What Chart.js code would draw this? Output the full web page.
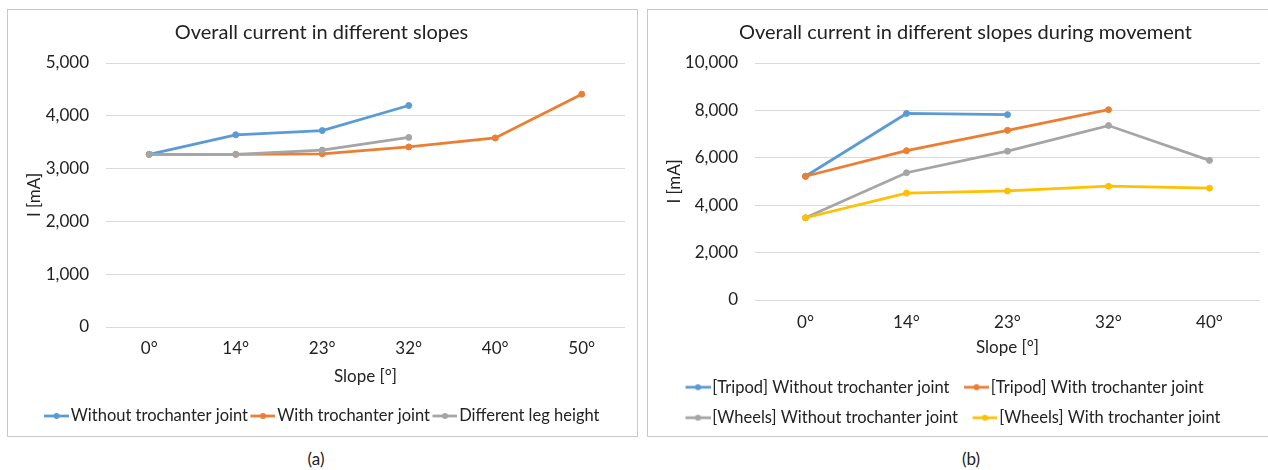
<!DOCTYPE html>
<html>
<head>
<meta charset="utf-8">
<script src="https://cdn.jsdelivr.net/npm/chart.js@4.4.1/dist/chart.umd.min.js"></script>
<style>
  body { margin: 0; width: 1268px; height: 470px; background: #fff; overflow: hidden; position: relative; }
  .box { position: absolute; border: 1px solid #c8c8c8; background: #fff; }
  .box canvas { display: block; }
  .caption { position: absolute; top: 448px; font: 17px Lato, "Open Sans", sans-serif; color: #222; width: 60px; text-align: center; }
</style>
</head>
<body>
<div class="box" style="left:7px; top:9px; width:629px; height:426px;">
  <canvas id="chartA" width="629" height="426"></canvas>
</div>
<div class="box" style="left:647px; top:9px; width:621px; height:426px;">
  <canvas id="chartB" width="621" height="426"></canvas>
</div>
<div class="caption" style="left:286px;">(a)</div>
<div class="caption" style="left:941px;">(b)</div>

<script>
// chart (a): standing current
const slopesA = ['0°', '14°', '23°', '32°', '40°', '50°'];
const withoutJointA = [3270, 3640, 3720, 4195];
const withJointA = [3270, 3270, 3280, 3410, 3580, 4410];
const legHeightA = [3270, 3270, 3350, 3590];

// chart (b): current during movement
const slopesB = ['0°', '14°', '23°', '32°', '40°'];
const tripodWithout = [5220, 7870, 7820];
const tripodWith = [5220, 6300, 7160, 8030];
const wheelsWithout = [3470, 5370, 6280, 7360, 5890];
const wheelsWith = [3470, 4510, 4600, 4800, 4720];

const BLUE = '#5b9bd5', ORANGE = '#ed7d31', GRAY = '#a5a5a5', YELLOW = '#ffc000';
const FONT = 'Lato, "Open Sans", sans-serif';
const TEXT = '#222';

Chart.defaults.font.family = FONT;
Chart.defaults.color = TEXT;
Chart.defaults.animation = false;

// line + dot marker like the office legend (a bit wider than the legend box)
function legendIcon(color) {
    const c = document.createElement('canvas');
    c.width = 32; c.height = 8;
    const g = c.getContext('2d');
    g.strokeStyle = color;
    g.lineWidth = 2.75;
    g.beginPath(); g.moveTo(7, 4); g.lineTo(32, 4); g.stroke();
    g.fillStyle = color;
    g.beginPath(); g.arc(19.5, 4, 3, 0, Math.PI * 2); g.fill();
    return c;
}

function series(label, data, color, order) {
    return {
        label: label, data: data, order: order,
        borderColor: color, backgroundColor: color,
        borderWidth: 2.75, pointRadius: 3, pointBorderWidth: 1,
        pointBackgroundColor: color, pointBorderColor: color,
        tension: 0, spanGaps: false
    };
}

function makeOptions(cfg) {
    return {
        responsive: false,
        layout: { padding: { left: cfg.padLeft, right: cfg.padRight, top: 0, bottom: cfg.padBottom } },
        plugins: {
            tooltip: { enabled: false },
            title: {
                display: true, text: cfg.title, color: TEXT,
                font: { size: 20, weight: 'normal' },
                padding: { top: 11, bottom: 18 }
            },
            legend: {
                position: 'bottom', align: cfg.legendAlign,
                labels: {
                    usePointStyle: true, pointStyleWidth: 19,
                    padding: cfg.legendPad, color: TEXT,
                    font: { size: 16.5 },
                    sort: (a, b) => a.datasetIndex - b.datasetIndex,
                    generateLabels: chart => Chart.defaults.plugins.legend.labels.generateLabels(chart).map(item => {
                        item.pointStyle = legendIcon(chart.data.datasets[item.datasetIndex].borderColor);
                        return item;
                    })
                }
            }
        },
        scales: {
            x: {
                offset: true,
                grid: { display: false, drawTicks: false },
                border: { display: false },
                ticks: { padding: cfg.xTickPad, font: { size: 17 }, color: TEXT },
                title: { display: true, text: 'Slope [°]', color: TEXT, font: { size: 17 }, padding: { top: 0, bottom: cfg.xTitlePad } },
                afterFit: s => { s.height = cfg.xHeight; }
            },
            y: {
                min: 0, max: cfg.yMax,
                ticks: { stepSize: cfg.yStep, padding: 17, font: { size: 17 }, color: TEXT,
                         callback: v => v.toLocaleString('en-US') },
                grid: { color: '#d9d9d9', lineWidth: 1, drawTicks: false },
                border: { display: false },
                title: { display: true, text: 'I [mA]', color: TEXT, font: { size: 17 }, padding: { top: cfg.yTitlePad, bottom: 0 } },
                afterFit: s => { s.width = cfg.yWidth; }
            }
        }
    };
}

new Chart(document.getElementById('chartA'), {
    type: 'line',
    data: {
        labels: slopesA,
        datasets: [
            series('Without trochanter joint', withoutJointA, BLUE, 2),
            series('With trochanter joint', withJointA, ORANGE, 1),
            series('Different leg height', legHeightA, GRAY, 0)
        ]
    },
    options: makeOptions({
        title: 'Overall current in different slopes',
        padLeft: 10, padRight: 12, padBottom: 1.75,
        yWidth: 88, yTitlePad: 6.8, yMax: 5000, yStep: 1000,
        xHeight: 78.75, xTickPad: 11, xTitlePad: 18.55,
        legendPad: 2, legendAlign: 'center'
    })
});

new Chart(document.getElementById('chartB'), {
    type: 'line',
    data: {
        labels: slopesB,
        datasets: [
            series('[Tripod] Without trochanter joint', tripodWithout, BLUE, 3),
            series('[Tripod] With trochanter joint', tripodWith, ORANGE, 2),
            series('[Wheels] Without trochanter joint', wheelsWithout, GRAY, 1),
            series('[Wheels] With trochanter joint', wheelsWith, YELLOW, 0)
        ]
    },
    options: makeOptions({
        title: 'Overall current in different slopes during movement',
        padLeft: 23, padRight: 9, padBottom: 0,
        yWidth: 84, yTitlePad: -6.2, yMax: 10000, yStep: 2000,
        xHeight: 65, xTickPad: 12, xTitlePad: 6.8,
        legendPad: 14, legendAlign: 'start'
    })
});
</script>
</body>
</html>
